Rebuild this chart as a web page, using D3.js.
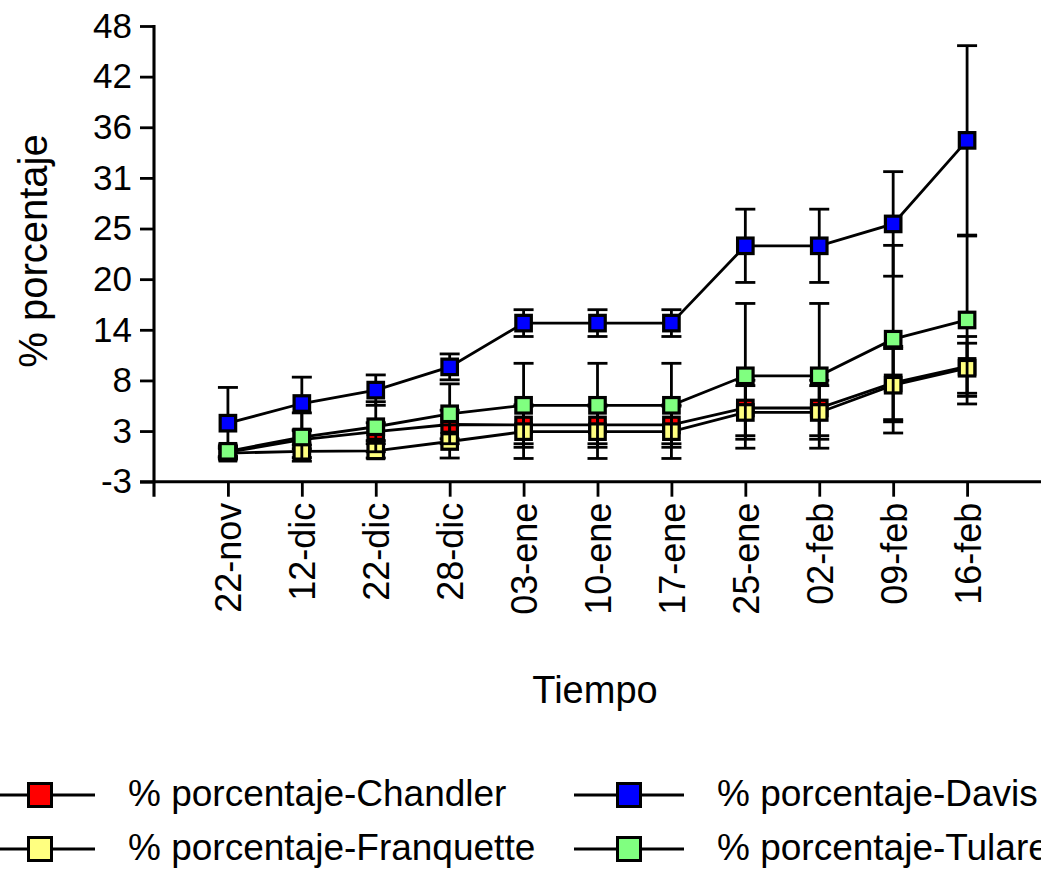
<!DOCTYPE html>
<html>
<head>
<meta charset="utf-8">
<title>% porcentaje</title>
<style>
  html, body { margin: 0; padding: 0; background: #fff; }
  svg { display: block; }
  text { font-family: "Liberation Sans", Arial, sans-serif; fill: #000; }
</style>
</head>
<body>
<script src="https://cdn.jsdelivr.net/npm/d3@7"></script>
<script>
// categories (x axis)
const dates = ["22-nov", "12-dic", "22-dic", "28-dic", "03-ene", "10-ene", "17-ene", "25-ene", "02-feb", "09-feb", "16-feb"];

// y tick labels, as printed on the axis
const yTickLabels = ["-3", "3", "8", "14", "20", "25", "31", "36", "42", "48"];

// series means
const chandler    = [0.3, 1.7, 2.6, 3.4, 3.35, 3.35, 3.35, 5.25, 5.25, 8.05, 9.9];
const davis       = [3.55, 5.75, 7.25, 9.85, 14.75, 14.75, 14.75, 23.4, 23.4, 25.85, 35.2];
const franquette  = [0.2, 0.4, 0.45, 1.5, 2.6, 2.6, 2.6, 4.75, 4.75, 7.8, 9.7];
const tulare      = [0.4, 2.0, 3.15, 4.6, 5.55, 5.55, 5.55, 8.85, 8.85, 12.95, 15.1];

// series error (SD)
const chandlerErr   = [0.5, 1.0, 1.0, 1.6, 2.1, 2.1, 2.1, 3.1, 3.1, 4.1, 3.35];
const davisErr      = [4.0, 2.95, 1.7, 1.45, 1.5, 1.5, 1.5, 4.1, 4.1, 5.85, 10.6];
const franquetteErr = [0.5, 0.7, 0.8, 1.85, 3.0, 3.0, 3.0, 3.0, 3.0, 4.1, 2.8];
const tulareErr     = [0.6, 2.7, 2.8, 3.35, 4.7, 4.7, 4.7, 8.1, 8.1, 10.5, 9.4];

const seriesNames  = ["% porcentaje-Chandler", "% porcentaje-Davis", "% porcentaje-Franquette", "% porcentaje-Tulare"];
const seriesColors = ["#ff0000", "#0000ff", "#ffff80", "#80ff80"];

const series = [
    {name: seriesNames[0], color: seriesColors[0], values: chandler,   err: chandlerErr},
    {name: seriesNames[1], color: seriesColors[1], values: davis,      err: davisErr},
    {name: seriesNames[2], color: seriesColors[2], values: franquette, err: franquetteErr},
    {name: seriesNames[3], color: seriesColors[3], values: tulare,     err: tulareErr}
];

// layout
const width = 1041, height = 869;
const plot = {left: 154, right: 1041, top: 26, bottom: 481.7};
const lineW = 2.8;
const markerSize = 15.5;
const capHalf = 10;

const svg = d3.select("body").append("svg")
    .attr("width", width)
    .attr("height", height)
    .attr("viewBox", `0 0 ${width} ${height}`);

// scales
const yMin = +yTickLabels[0], yMax = +yTickLabels[yTickLabels.length - 1];
const scaleY = d3.scaleLinear().domain([yMin, yMax]).range([plot.bottom, plot.top]);
const scaleX = d3.scalePoint().domain(dates).range([plot.left, plot.right]).padding(1);
const yTicks = yTickLabels.map((d, i) => yMin + i * (yMax - yMin) / (yTickLabels.length - 1));

// y axis
const groupAxisY = svg.append("g")
    .attr("transform", `translate(${plot.left},0)`)
    .call(d3.axisLeft(scaleY).tickValues(yTicks).tickSize(14).tickPadding(8)
        .tickFormat((d, i) => yTickLabels[i]));
groupAxisY.select(".domain").remove();
groupAxisY.selectAll(".tick line").attr("stroke", "#000").attr("stroke-width", lineW);
groupAxisY.selectAll(".tick text")
    .attr("font-size", 35)
    .attr("font-family", "Liberation Sans, Arial, sans-serif");
groupAxisY.append("line")
    .attr("x1", 0).attr("x2", 0)
    .attr("y1", plot.top - 1).attr("y2", plot.bottom + 15)
    .attr("stroke", "#000").attr("stroke-width", lineW + 0.3);

// x axis
const groupAxisX = svg.append("g")
    .attr("transform", `translate(0,${plot.bottom})`)
    .call(d3.axisBottom(scaleX).tickSize(15).tickSizeOuter(0));
groupAxisX.select(".domain").remove();
groupAxisX.selectAll(".tick line").attr("stroke", "#000").attr("stroke-width", lineW);
groupAxisX.selectAll(".tick text")
    .attr("font-size", 36)
    .attr("font-family", "Liberation Sans, Arial, sans-serif")
    .attr("text-anchor", "end")
    .attr("transform", "translate(0,21) rotate(-90)")
    .attr("x", 0)
    .attr("y", 0)
    .attr("dy", "0.36em");
groupAxisX.append("line")
    .attr("x1", plot.left - 14).attr("x2", plot.right)
    .attr("y1", 0).attr("y2", 0)
    .attr("stroke", "#000").attr("stroke-width", lineW + 0.3);

// axis titles
svg.append("text")
    .attr("transform", "translate(33,251) rotate(-90)")
    .attr("text-anchor", "middle")
    .attr("dy", "0.35em")
    .attr("font-size", 40)
    .text("% porcentaje");
svg.append("text")
    .attr("x", 595)
    .attr("y", 703)
    .attr("text-anchor", "middle")
    .attr("font-size", 38)
    .text("Tiempo");

// series
const groupMarks = svg.append("g");
const line = d3.line().x((d, i) => scaleX(dates[i])).y(d => scaleY(d));

series.forEach(s => {
    const g = groupMarks.append("g").attr("class", "series");
    const pts = s.values.map((v, i) => ({x: scaleX(dates[i]), v: v, e: s.err[i]}));

    // error bars
    const eb = g.selectAll("g.err").data(pts).join("g").attr("class", "err")
        .attr("stroke", "#000").attr("stroke-width", lineW);
    eb.append("line")
        .attr("x1", d => d.x).attr("x2", d => d.x)
        .attr("y1", d => scaleY(d.v + d.e)).attr("y2", d => scaleY(d.v - d.e));
    eb.append("line")
        .attr("x1", d => d.x - capHalf).attr("x2", d => d.x + capHalf)
        .attr("y1", d => scaleY(d.v + d.e)).attr("y2", d => scaleY(d.v + d.e));
    eb.append("line")
        .attr("x1", d => d.x - capHalf).attr("x2", d => d.x + capHalf)
        .attr("y1", d => scaleY(d.v - d.e)).attr("y2", d => scaleY(d.v - d.e));

    // connecting line
    g.append("path")
        .datum(s.values)
        .attr("d", line)
        .attr("fill", "none")
        .attr("stroke", "#000")
        .attr("stroke-width", lineW);

    // markers
    g.selectAll("rect").data(pts).join("rect")
        .attr("x", d => d.x - markerSize / 2)
        .attr("y", d => scaleY(d.v) - markerSize / 2)
        .attr("width", markerSize)
        .attr("height", markerSize)
        .attr("fill", s.color)
        .attr("stroke", "#000")
        .attr("stroke-width", 3.2);
});

// legend
const legendCols = [40, 629];
const legendRows = [795, 849];
const legendOrder = [0, 1, 2, 3];
const groupLegend = svg.append("g");
legendOrder.forEach((k, i) => {
    const cx = legendCols[i % 2], cy = legendRows[Math.floor(i / 2)];
    const g = groupLegend.append("g").attr("transform", `translate(${cx},${cy})`);
    g.append("line")
        .attr("x1", -55).attr("x2", 55)
        .attr("stroke", "#000").attr("stroke-width", lineW);
    g.append("rect")
        .attr("x", -11.5).attr("y", -11.5)
        .attr("width", 23).attr("height", 23)
        .attr("fill", series[k].color)
        .attr("stroke", "#000").attr("stroke-width", 3);
    g.append("text")
        .attr("x", 88)
        .attr("y", 11)
        .attr("font-size", 37)
        .text(series[k].name);
});
</script>
</body>
</html>
